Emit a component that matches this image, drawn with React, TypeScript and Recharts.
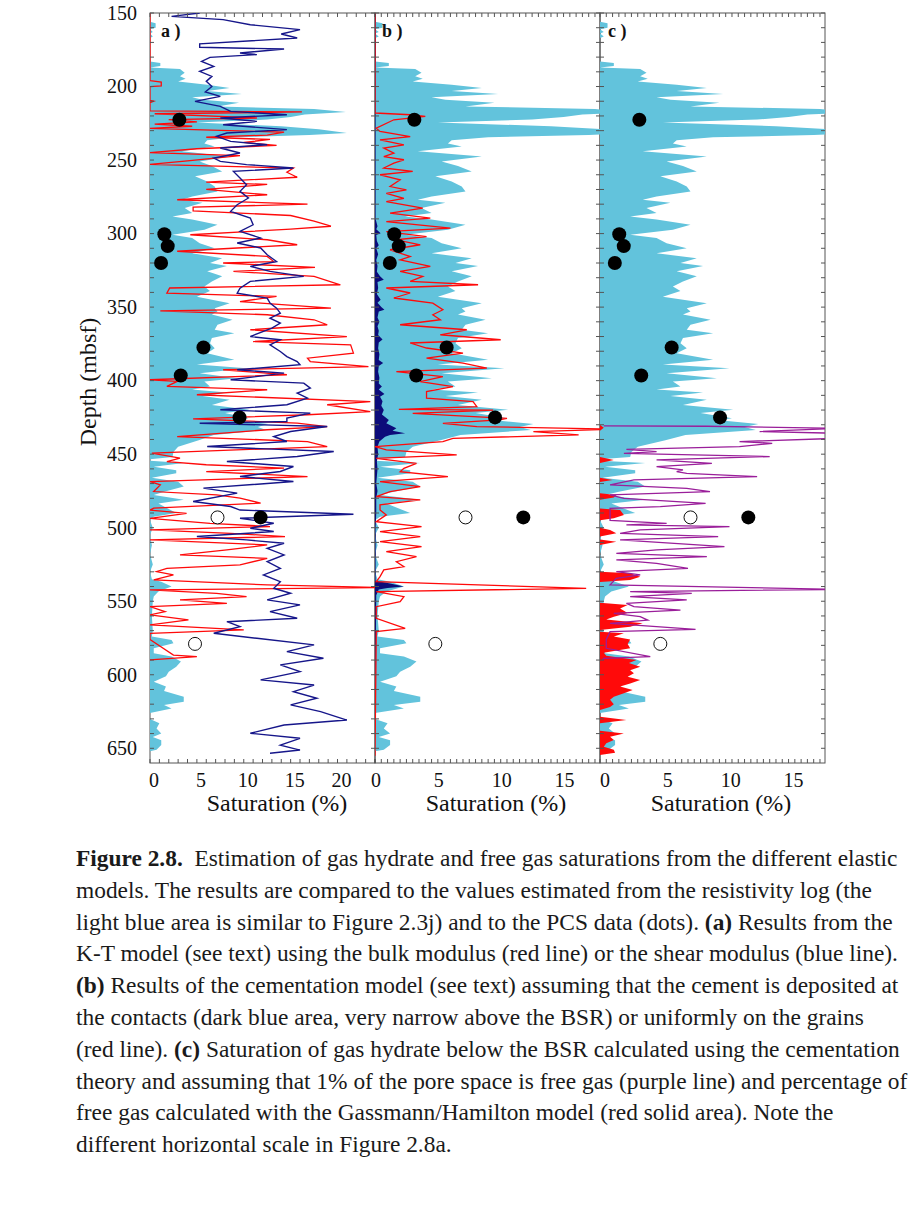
import { Area, ComposedChart, Line, Scatter, XAxis, YAxis } from 'recharts';

type Pt = [number, number];

// [depth (mbsf), saturation (%)]
const resistivityHydrate: Pt[] = [
  [150, 0], [156, 0], [157, 0.6], [160, 0.6], [161, 0], [163, 0.3], [164, 0], [166, 0.3], [167, 0], [183, 0],
  [184, 1.1], [186, 1.1], [187, 0], [188, 3.2], [190.7, 3.7], [193, 3.2], [194.7, 3.8], [196.5, 3.0], [198.8, 6.1],
  [201, 8.5], [203, 6.1], [205, 9.8], [207.3, 4.5], [209, 5.6], [211, 9.5], [213.5, 7.2], [215.3, 17.5], [217.3, 20.9],
  [219, 16.5], [220.7, 15], [222.5, 12.5], [224.5, 5], [227, 14], [229, 18], [231.6, 21], [233, 17], [234.5, 9],
  [236.5, 6.1], [238.8, 5.8], [240.7, 6.9], [244, 3.4], [247.5, 8.5], [251, 5.3], [254, 6.6], [257.7, 7.7], [261, 4.8],
  [264.5, 6.1], [268, 6.9], [271.3, 7.2], [274.7, 4.5], [277, 3.4], [279, 5.6], [282.6, 3.7], [286, 4.5], [288.3, 2.4],
  [290.5, 4.5], [294, 7.2], [297.4, 5.8], [300.8, 2.4], [303, 4.5], [306.5, 5.3], [310, 6.9], [313.4, 4.5], [316.7, 7.7],
  [320, 6.4], [322, 8.2], [325.6, 6.1], [329, 7.7], [332.5, 6.6], [336, 5.8], [339, 6.4], [343, 5], [347.3, 8.5],
  [350.7, 6.9], [353, 7.2], [355, 6.6], [358.6, 8.8], [362, 7.2], [365.4, 6.9], [367.7, 9], [371, 6.6], [374.5, 6.4],
  [377.9, 6.9], [381.3, 6.1], [385.8, 9], [389, 5], [391.5, 10.3], [395, 5.3], [398.3, 9.3], [400.5, 5.8], [404, 6.4],
  [406, 4.5], [408, 8.2], [410.5, 5.6], [413, 8.5], [416.5, 6.6], [419.8, 10.6], [422, 8], [425.6, 10.5], [427, 9.5],
  [429.4, 12.6], [431.5, 11.5], [433.5, 12.4], [437, 6.8], [440.5, 5.2], [445, 3], [448.5, 2.5], [452, 2.4], [453.5, 0],
  [454.5, 0], [456, 3.6], [458.5, 0.4], [461, 2.8], [463, 2.8], [466, 0.2], [468.7, 3], [472, 3.6], [475.5, 1.5],
  [477.7, 0.4], [481, 3.6], [483.5, 0.9], [485.6, 1.5], [490, 2.8], [492.5, 0.4], [495, 0], [500, 0.3], [505, 0],
  [512, 0.2], [518, 0], [525, 0.3], [530, 0], [535, 0.2], [536.7, 1.2], [540, 2.3], [543.4, 0.9], [546.8, 0.4],
  [550, 0.3], [560, 0.2], [570, 0.3], [574, 0.2], [576.4, 2.3], [578.6, 2.5], [582, 0.4], [585.4, 0.4], [587.6, 2.3],
  [591, 3.3], [594.5, 2.8], [598, 2], [601, 1.7], [604.7, 0.4], [608, 1.7], [611, 1.5], [614.9, 3.6], [618.3, 3.6],
  [620.6, 1.5], [622.9, 2.3], [626, 0], [630, 0], [633, 1], [636.5, 0.7], [640, 1.2], [642.3, 0.3], [644.5, 1.2],
  [647.8, 1.2], [651, 0.7], [652, 0],
];

const ktBulk: Pt[] = [
  [150, 0], [196, 0], [197, 1.2], [199.5, 1.2], [200, 0], [209.5, 0], [210, 0.4], [211, 0], [216.5, 0],
  [217.3, 16.2], [218.5, 0.5], [221.4, 11.4], [222.5, 2], [224, 5], [225.5, 0.5], [227, 4.5], [228.5, 0], [231, 14.3],
  [233, 12.5], [234.5, 6], [236, 12.8], [238, 10], [240, 13.5], [242.3, 5], [245, 0], [247, 9.6], [250.5, 4], [253, 0],
  [255.4, 15.3], [258.3, 14.6], [261.7, 15.7], [265, 6], [266.6, 12.5], [270, 6], [273.6, 12.5], [277, 2.9], [280, 16.8],
  [282, 4.6], [284.5, 4.6], [287.7, 15], [291.5, 17.5], [295, 19.3], [297, 15], [300.8, 4.3], [304.2, 12.5],
  [307.6, 15.7], [312, 2.9], [315.5, 12.5], [319, 13.2], [320, 7.8], [323, 17.6], [325.7, 8.9], [329.1, 17.5],
  [334.8, 20.3], [337, 2.1], [340.5, 1.8], [342.7, 13.5], [346.2, 9.6], [350.7, 19.3], [352.5, 1.1], [355.2, 12.5],
  [358.6, 17.5], [362, 18.9], [365.4, 10.7], [370, 21], [373.4, 11], [375.6, 21.4], [381.3, 21.7], [384.7, 16.8],
  [387, 17.1], [390.4, 23.3], [392.6, 7.8], [396, 14.6], [399.4, 0], [400.5, 2.9], [403.9, 1.8], [406.2, 12.5],
  [409.6, 5], [414.2, 23.5], [416.4, 18.9], [421, 23.5], [423.2, 16.8], [426, 4.6], [428.9, 15.7], [431.2, 18.9],
  [433.4, 12.5], [438, 2.9], [441.4, 16.8], [444.8, 18.9], [449.3, 0.2], [452.7, 3.2], [455, 1.8], [457.2, 6],
  [459.5, 14.3], [461.8, 6], [465.2, 16.8], [468.6, 0], [470.9, 1.1], [475.4, 0.4], [477.7, 7.1], [479.9, 9.6],
  [483.3, 11.8], [486.7, 0.4], [488, 0], [490.2, 3.9], [493.6, 0], [497, 6.4], [499.2, 12.8], [501.5, 0], [503.8, 8.6],
  [506, 14.4], [508.3, 0], [511.7, 12.5], [515.1, 8.2], [518.5, 3.2], [520.8, 12.5], [525.3, 9.6], [527.6, 1.8],
  [529.9, 0.7], [532.1, 2.5], [535.5, 0.4], [538.9, 12.5], [540.7, 25], [542.3, 0], [544.6, 7.1], [546.9, 10.3],
  [549.1, 3.2], [551.4, 8.2], [553.7, 0], [557.1, 1.6], [559.3, 0], [562.7, 4.1], [566.1, 0], [569.5, 10], [571.8, 0],
  [576, 0], [586.6, 2.5], [587.7, 5], [589.9, 0],
];

const ktShear: Pt[] = [
  [150, 5.3], [152.3, 2.3], [154.5, 7.8], [158, 10.7], [161.3, 16], [164.3, 14], [167, 15.7], [171, 5.3], [173.3, 5.3],
  [174.5, 14.3], [177.2, 9.6], [178.3, 11.4], [180.2, 6.4], [182.9, 5.5], [186.3, 6.8], [189.7, 5.3], [193.1, 6.6],
  [196.5, 6], [200, 6.6], [203.7, 5.9], [206.7, 7.5], [210.1, 4.8], [213.5, 7.5], [216.9, 8.6], [219.2, 14.6],
  [221.4, 7.5], [223.7, 11.4], [226, 7.8], [229.3, 14.6], [231.6, 8.2], [233.9, 7.1], [237.3, 8.6], [239.6, 12.5],
  [241.8, 7.5], [245.2, 9.6], [248.6, 6.8], [250.9, 7.5], [253.1, 10.3], [255.4, 15.3], [257.7, 8.9], [262.2, 9.6],
  [266.8, 10.3], [271.3, 9.6], [275.8, 10.5], [280.4, 9.3], [284.9, 8.6], [289.4, 10.7], [294, 11], [298.5, 9.6],
  [303, 11.8], [306.4, 9.3], [309.8, 11.8], [314.4, 12.5], [319, 13.5], [322.3, 10.7], [325.7, 12.8], [329.1, 16.4],
  [332.5, 10.7], [337.1, 9.6], [340.5, 9.3], [343.9, 12.5], [347.3, 12.8], [350.7, 13.5], [354.1, 13.9], [357.5, 12.8],
  [360.9, 13.9], [364.3, 13], [370, 10.7], [372.2, 13.9], [375.6, 12.8], [380.2, 13.9], [383.6, 14.6], [387, 15.7],
  [389.2, 16], [392.6, 9.3], [394.9, 14.3], [399.4, 8.6], [401.7, 16.4], [405.1, 17.1], [408.5, 15.7], [411.9, 16.8],
  [416.4, 14.6], [419.8, 7.5], [422.1, 17.1], [425.5, 14.6], [427.8, 14.6], [429, 5.3], [431.2, 18.9], [434.6, 15],
  [438, 13.2], [441.4, 14.6], [444.8, 6.1], [448.2, 19.6], [451.6, 15.7], [455, 8.2], [458.4, 15.3], [461.8, 13.9],
  [465.2, 9.6], [468.6, 15.3], [473.1, 5.7], [476.5, 9.3], [482.2, 4.6], [485.6, 8.6], [488, 9.6], [490.8, 21.7],
  [493.6, 9.6], [497, 13.2], [500.4, 10.7], [502.6, 13.2], [506, 5], [508.3, 10.3], [510.6, 14.3], [514, 12.5],
  [518.5, 14.3], [523, 12.5], [527.6, 13.9], [532.1, 12.1], [536.7, 13.9], [541.2, 13.2], [544.6, 15], [549.1, 12.5],
  [552.5, 16], [557.1, 12.8], [561.6, 15.7], [563.9, 8.2], [567.3, 9.6], [571.8, 6.8], [575.2, 11.4], [579.7, 17.5],
  [584.3, 14.6], [588.8, 18.5], [593.3, 13.9], [597.9, 16], [603.5, 11.8], [607, 17.5], [611.5, 15.3], [616, 17.8],
  [620.5, 15], [625.1, 18.2], [630.8, 21], [634.2, 14.3], [639.8, 10.7], [643.2, 16], [647.8, 13.9], [651.2, 16],
  [653.4, 12.8],
];

const cementUniform: Pt[] = [
  [150, 0], [218, 0], [219.2, 2.8], [220.3, 4], [222.6, 1.5], [228.3, 0.1], [230.5, 0.4], [234, 2.8], [236.3, 0.4],
  [239.7, 2.3], [241.9, 0.7], [245.3, 1.5], [247.6, 0.7], [249.8, 2.3], [252.1, 1.5], [255.4, 0.7], [257.7, 3],
  [260, 0.4], [263.4, 2], [268, 1.2], [270.3, 2.5], [272.6, 0.9], [276, 2.3], [278.2, 0.9], [282.7, 3.8], [286.1, 1.2],
  [289.5, 4.4], [291.8, 0.9], [296.3, 6], [298.6, 0.9], [302, 4.1], [304.2, 1.7], [307.6, 3.6], [311, 1.2], [315.6, 2.8],
  [317.8, 2], [322.3, 4.4], [325.7, 2], [329.1, 3.8], [332.5, 2.8], [334.8, 8.2], [337, 0.9], [340.4, 2.8], [343.8, 1.5],
  [347.3, 4.6], [351.8, 5.4], [355.2, 4.6], [358.6, 5.2], [362, 2], [365.4, 7.3], [368.8, 5.2], [372.2, 10], [374.4, 2.8],
  [377.8, 4.1], [381.3, 7], [384.7, 4.1], [388.1, 7], [391.5, 8.9], [393.8, 1.7], [397.2, 5.4], [400.6, 3.6], [404, 6.2],
  [407.4, 4.1], [411.9, 4.1], [414.2, 7.8], [417.6, 8.1], [419.6, 1.9], [420, 9.4], [422.2, 3], [425.6, 10.5],
  [426.7, 9.9], [429, 5.4], [431.2, 8.1], [433, 19], [434.6, 12.6], [436.9, 16.2], [439.2, 6.2], [441.4, 5.4],
  [444.8, 0], [447.1, 0.9], [450.5, 6.5], [452.8, 0.1], [456.2, 3.3], [459.6, 2.3], [461.9, 2], [465.3, 5.8],
  [468.7, 0.4], [472.1, 3.6], [475.5, 1.2], [478.9, 0.1], [481.1, 3.6], [484.5, 0.4], [487.9, 0.4], [491.3, 0.9],
  [495.9, 0.1], [499.3, 3.7], [502.7, 0.4], [506, 3.6], [509.5, 0.4], [512.9, 3.7], [516.3, 0.9], [519.7, 3.3],
  [523.1, 1.7], [526.5, 2.3], [528.7, 0.7], [533.3, 0.4], [536.7, 0.1], [541.2, 16.8], [543.5, 0.1], [546.9, 2.3],
  [550.3, 2], [553.7, 0.1], [561.6, 0.1], [568.4, 2.4], [570.7, 0.1], [655, 0],
];

const cementContact: Pt[] = [
  [150, 0.05], [290, 0.05], [295, 0.2], [297, 0.1], [299.7, 0.45], [301, 0.1], [305, 0.15], [308, 0.3], [310, 0.1],
  [314, 0.25], [318, 0.1], [322, 0.2], [326, 0.15], [329, 0.4], [331.4, 0.7], [333, 0.2], [337, 0.25], [341, 0.15],
  [345, 0.45], [347, 0.2], [350, 0.5], [351.8, 0.75], [353, 0.3], [357, 0.2], [360, 0.35], [363, 0.2], [366, 0.3],
  [369, 0.25], [372, 0.6], [374, 0.3], [378, 0.25], [382, 0.35], [386, 0.3], [388, 0.65], [390, 0.3], [394, 0.25],
  [398, 0.35], [402, 0.3], [404, 0.55], [406, 0.3], [409, 0.75], [411, 0.4], [414, 0.6], [417, 0.5], [420, 0.7],
  [423, 0.55], [426.7, 1.1], [429, 0.9], [432.4, 1.7], [434, 1.4], [435.8, 2.4], [437, 1.2], [438.2, 0.8],
  [441.4, 0.35], [445, 0.2], [450, 0.25], [455, 0.15], [460, 0.2], [470, 0.1], [475, 0.2], [480, 0.1], [490, 0.1],
  [500, 0.05], [536, 0.05], [538, 1.2], [540, 2.3], [541, 1], [542, 0.3], [546, 0.1], [655, 0],
];

const hydrateFreeGas1: Pt[] = [
  [430.8, 0.3], [431, 8.5], [432.4, 19], [434.6, 12.7], [435.8, 19], [439.2, 19], [441.4, 11.1], [442.6, 13.7],
  [444.8, 11.1], [446.7, 2.1], [448.2, 4.5], [449.4, 1.9], [451.6, 13.5], [453.9, 4.5], [456.2, 8.9], [458.5, 4.5],
  [460.7, 6.6], [461.9, 6.1], [463, 6.9], [465.3, 12.5], [467.5, 2.7], [470.9, 0.8], [473.2, 6.9], [475.5, 8.75],
  [477.7, 0.8], [480, 1.9], [483.4, 8.4], [485.7, 4.8], [486.8, 0.8], [490.7, 0.8], [495, 0.8], [497, 5.3], [498.1, 2.1],
  [499.3, 10.3], [501.5, 3.2], [503.8, 1.6], [506, 9.4], [508.3, 1.6], [512.9, 9.9], [515.1, 4.5], [517.4, 1.3],
  [519.7, 8.5], [521.9, 1.3], [524.2, 4.5], [527.6, 7], [529.9, 1.3], [532.1, 3.2], [534.4, 1.3], [538.9, 0.8],
  [541.9, 19], [543.5, 2.4], [544.6, 7.3], [546.9, 2.4], [549.1, 6.9], [551.4, 2.1], [553.7, 2.7], [556, 6.4],
  [558.2, 1.1], [560.5, 3.2], [562.8, 3.8], [565, 0.8], [567.3, 4.5], [569.1, 7.6], [570.7, 0.8], [576, 0.5],
  [582, 0.5], [587.7, 4], [588.8, 0.3], [590, 0.2],
];

const gassmannGas: Pt[] = [
  [430, 0], [432, 0.3], [434, 0], [452, 0], [454, 1.1], [456, 0], [466, 0], [467.5, 1], [469, 0], [476.5, 0],
  [477.7, 1.3], [479.4, 1.1], [481, 0], [487, 0], [488, 1.6], [491.3, 1.9], [493.6, 1.1], [495, 0], [500, 0],
  [501.5, 0.8], [503.8, 1.3], [506, 0], [508, 0], [509.5, 1.3], [511.7, 0], [530, 0], [531, 2.4], [533.3, 3.2],
  [535.5, 2.4], [537, 0], [551, 0], [552.5, 2.2], [555, 1.6], [558, 2.2], [560.5, 1.1], [562.5, 0.5], [565, 3.4],
  [567.3, 2.4], [569.5, 0], [570.7, 0], [571.8, 1.9], [574, 1.1], [576, 2.4], [579, 2.2], [582, 2.4], [585, 0.3],
  [587, 0.5], [590, 2.9], [592, 2.3], [594.5, 3.2], [597, 2.4], [599, 2.7], [601.4, 2.2], [603.6, 3.2], [606, 2.4],
  [608, 1.6], [610.4, 2.6], [612.6, 1.9], [615, 1.1], [617, 0.8], [620, 1.1], [622, 0.8], [624, 0], [628.5, 0],
  [630.8, 2.1], [633, 0], [638, 0], [639.9, 1.9], [642.1, 0.8], [644.4, 1.1], [646.6, 0.5], [649, 0.3], [651, 1.1],
  [653, 1.2], [654.6, 0],
];

const pcsFilled: Pt[] = [
  [222.6, 3.13], [300.5, 1.53], [308.5, 1.89], [320, 1.18], [377.5, 5.7], [396.5, 3.28], [425, 9.55], [493, 11.8],
];
const pcsOpen: Pt[] = [[493, 7.2], [579, 4.8]];

const depthLabels = [150, 200, 250, 300, 350, 400, 450, 500, 550, 600, 650];
const depthMinor = Array.from({ length: 51 }, (_, i) => 150 + i * 10);
const satLabelsA = [0, 5, 10, 15, 20];
const satLabelsBC = [0, 5, 10, 15];
const satMinorA = Array.from({ length: 25 }, (_, i) => i);
const satMinorBC = Array.from({ length: 36 }, (_, i) => i * 0.5);

const rows = (pts: Pt[]) => pts.map(([depth, v]) => ({ depth, v }));

const SERIF = '"Liberation Serif", "Times New Roman", serif';
const FRAME = '#555';
const LIGHT_BLUE = '#62c3dc';
const RED = '#ff0a0a';
const NAVY = '#16168a';
const DARK_BLUE = '#0c0c7a';
const PURPLE = '#9a1e9a';

const TOP = 13;
const BOTTOM = 763;
const PLOT_W = 225;
const CHART_H = 830;

function yTick(plotLeft: number, showLabel: boolean) {
  return (props: any) => {
    const { y, payload } = props;
    const v = payload.value;
    return (
      <g>
        <line x1={plotLeft} x2={plotLeft + 4} y1={y} y2={y} stroke={FRAME} />
        <line x1={plotLeft + PLOT_W} x2={plotLeft + PLOT_W - 4} y1={y} y2={y} stroke={FRAME} />
        {showLabel && depthLabels.includes(v) && (
          <text x={plotLeft - 13} y={y} dy="0.34em" textAnchor="end" fontSize={20} fontFamily={SERIF} fill="#111">
            {v}
          </text>
        )}
      </g>
    );
  };
}

function xTick(labels: number[], dx: number) {
  return (props: any) => {
    const { x, payload } = props;
    const v = payload.value;
    return (
      <g>
        <line x1={x} x2={x} y1={BOTTOM} y2={BOTTOM - 4} stroke={FRAME} />
        <line x1={x} x2={x} y1={TOP} y2={TOP + 4} stroke={FRAME} />
        {labels.includes(v) && (
          <text x={x + dx} y={BOTTOM + 24} textAnchor="middle" fontSize={20} fontFamily={SERIF} fill="#111">
            {v}
          </text>
        )}
      </g>
    );
  };
}

const dotFilled = (p: any) => <circle cx={p.cx} cy={p.cy} r={7} fill="#000" />;
const dotOpen = (p: any) => <circle cx={p.cx} cy={p.cy} r={6.5} fill="#fff" stroke="#111" strokeWidth={1} />;

function axes(yW: number, xMax: number, minor: number[], labels: number[], dx: number, showDepth: boolean) {
  return [
    <XAxis
      key="x"
      type="number"
      dataKey="v"
      domain={[0, xMax]}
      allowDataOverflow
      ticks={minor}
      interval={0}
      tick={xTick(labels, dx)}
      tickLine={false}
      axisLine={false}
      tickSize={0}
      tickMargin={0}
      height={CHART_H - BOTTOM}
    />,
    <YAxis
      key="y"
      type="number"
      dataKey="depth"
      domain={[150, 660]}
      allowDataOverflow
      ticks={depthMinor}
      interval={0}
      tick={yTick(yW, showDepth)}
      tickLine={false}
      axisLine={false}
      tickSize={0}
      tickMargin={0}
      width={yW}
    />,
  ];
}

const dots = () => [
  <Scatter key="pf" data={rows(pcsFilled)} shape={dotFilled} isAnimationActive={false} />,
  <Scatter key="po" data={rows(pcsOpen)} shape={dotOpen} isAnimationActive={false} />,
];

const blueArea = () => (
  <Area
    key="res"
    data={rows(resistivityHydrate)}
    dataKey="v"
    type="linear"
    fill={LIGHT_BLUE}
    fillOpacity={1}
    stroke="none"
    isAnimationActive={false}
  />
);

const margin = { top: TOP, right: 5, bottom: 0, left: 0 };

const captionLines: [string, boolean][][] = [
  [['Figure 2.8.', true], ['  Estimation of gas hydrate and free gas saturations from the different elastic', false]],
  [['models. The results are compared to the values estimated from the resistivity log (the', false]],
  [['light blue area is similar to Figure 2.3j) and to the PCS data (dots). ', false], ['(a)', true], [' Results from the', false]],
  [['K-T model (see text) using the bulk modulus (red line) or the shear modulus (blue line).', false]],
  [['(b)', true], [' Results of the cementation model (see text) assuming that the cement is deposited at', false]],
  [['the contacts (dark blue area, very narrow above the BSR) or uniformly on the grains', false]],
  [['(red line). ', false], ['(c)', true], [' Saturation of gas hydrate below the BSR calculated using the cementation', false]],
  [['theory and assuming that 1% of the pore space is free gas (purple line) and percentage of', false]],
  [['free gas calculated with the Gassmann/Hamilton model (red solid area). Note the', false]],
  [['different horizontal scale in Figure 2.8a.', false]],
];

export default function App() {
  return (
    <div style={{ position: 'absolute', left: 0, top: 0, width: 915, height: 1218, background: '#fff' }}>
      <svg width={915} height={CHART_H} style={{ position: 'absolute', left: 0, top: 0 }}>
        {[150, 375, 600].map((x) => (
          <rect key={x} x={x} y={TOP} width={PLOT_W} height={BOTTOM - TOP} fill="none" stroke={FRAME} strokeWidth={1} />
        ))}
      </svg>

      <div style={{ position: 'absolute', left: 0, top: 0 }}>
        <ComposedChart width={150 + PLOT_W + 5} height={CHART_H} layout="vertical" margin={margin}>
          {axes(150, 24, satMinorA, satLabelsA, 4, true)}
          {blueArea()}
          <Line data={rows(ktBulk)} dataKey="v" type="linear" stroke={RED} strokeWidth={1.3} dot={false} isAnimationActive={false} />
          <Line data={rows(ktShear)} dataKey="v" type="linear" stroke={NAVY} strokeWidth={1.4} dot={false} isAnimationActive={false} />
          {dots()}
        </ComposedChart>
      </div>

      <div style={{ position: 'absolute', left: 375 - 60, top: 0 }}>
        <ComposedChart width={60 + PLOT_W + 5} height={CHART_H} layout="vertical" margin={margin}>
          {axes(60, 17.9, satMinorBC, satLabelsBC, 1, false)}
          {blueArea()}
          <Area data={rows(cementContact)} dataKey="v" type="linear" fill={DARK_BLUE} fillOpacity={1} stroke="none" isAnimationActive={false} />
          <Line data={rows(cementUniform)} dataKey="v" type="linear" stroke={RED} strokeWidth={1.3} dot={false} isAnimationActive={false} />
          {dots()}
        </ComposedChart>
      </div>

      <div style={{ position: 'absolute', left: 600 - 60, top: 0 }}>
        <ComposedChart width={60 + PLOT_W + 5} height={CHART_H} layout="vertical" margin={margin}>
          {axes(60, 17.9, satMinorBC, satLabelsBC, 5, false)}
          {blueArea()}
          <Area data={rows(gassmannGas)} dataKey="v" type="linear" fill={RED} fillOpacity={1} stroke="none" isAnimationActive={false} />
          <Line data={rows(hydrateFreeGas1)} dataKey="v" type="linear" stroke={PURPLE} strokeWidth={1.3} dot={false} isAnimationActive={false} />
          {dots()}
        </ComposedChart>
      </div>

      <svg width={915} height={1218} style={{ position: 'absolute', left: 0, top: 0, pointerEvents: 'none' }}>
        <g fontFamily={SERIF} fill="#111">
          <text x={161} y={37} fontSize={18} fontWeight="bold">a )</text>
          <text x={382} y={37} fontSize={18} fontWeight="bold">b )</text>
          <text x={608} y={37} fontSize={18} fontWeight="bold">c )</text>
          <text x={277} y={811} fontSize={24} textAnchor="middle">Saturation (%)</text>
          <text x={496} y={811} fontSize={24} textAnchor="middle">Saturation (%)</text>
          <text x={721} y={811} fontSize={24} textAnchor="middle">Saturation (%)</text>
          <text x={96} y={382} fontSize={24} textAnchor="middle" transform="rotate(-90 96 382)">Depth (mbsf)</text>
        </g>
        <g fontFamily={SERIF} fill="#1a1a1a" fontSize={23.4}>
          {captionLines.map((segs, i) => (
            <text key={i} x={76} y={866 + i * 31.8} style={{ whiteSpace: 'pre' }}>
              {segs.map(([t, b], j) => (
                <tspan key={j} fontWeight={b ? 'bold' : 'normal'}>{t}</tspan>
              ))}
            </text>
          ))}
        </g>
      </svg>
    </div>
  );
}
